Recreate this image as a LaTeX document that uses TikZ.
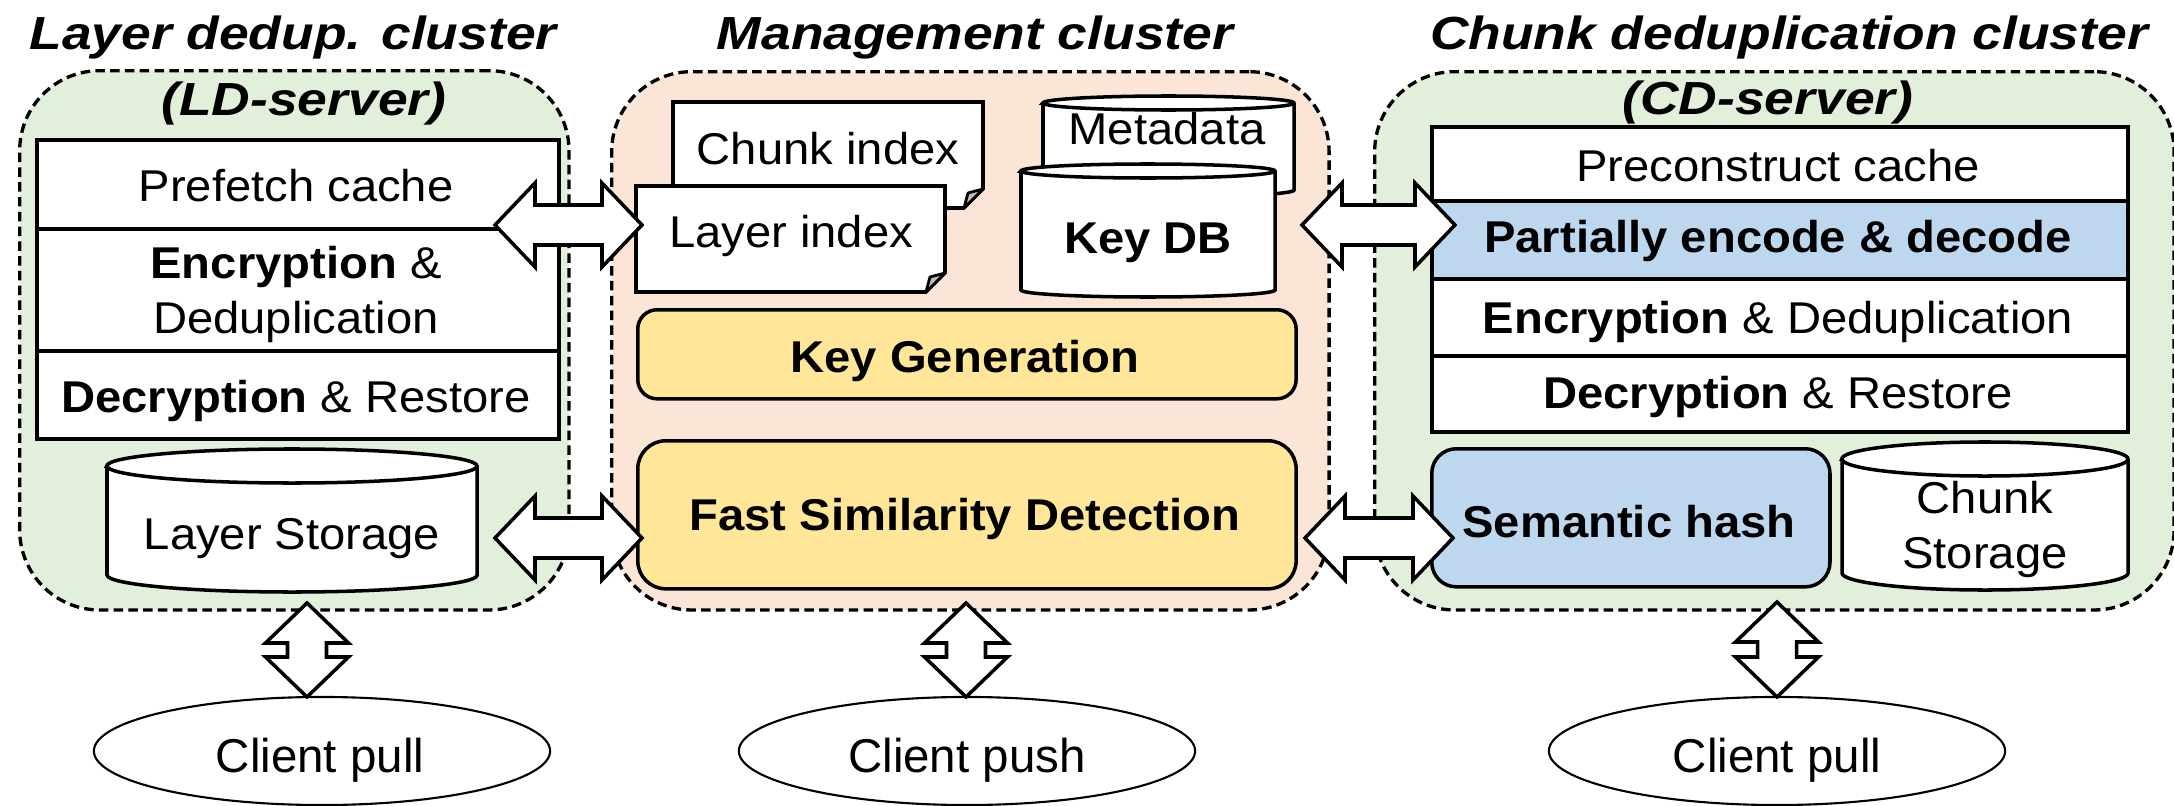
\documentclass[tikz,border=0pt]{standalone}
\usepackage{fontspec}
\setmainfont{Liberation Sans}
\newfontfamily\txtfont{Liberation Sans}[FakeStretch=1.06]
\newfontfamily\hdfont{Liberation Sans}[FakeStretch=1.15]
\usetikzlibrary{calc,shapes.geometric}
\definecolor{ldfill}{HTML}{E2EFDA}
\definecolor{mgfill}{HTML}{FBE5D6}
\definecolor{ylfill}{HTML}{FFE699}
\definecolor{blfill}{HTML}{BDD7EE}
\definecolor{foldgray}{HTML}{BFBFBF}

% vertical storage drum: left, top, right, bottom, half-height of the end ellipses
\newcommand\drum[5]{%
  \pgfmathsetmacro\drumrx{(#3-#1)/2*0.284528}%
  \pgfmathsetmacro\drumry{#5*0.284528}%
  \filldraw[box] (#1,{#2+#5}) -- (#1,{#4-#5})
     arc[start angle=180,end angle=360,x radius=\drumrx pt,y radius=\drumry pt]
     -- (#3,{#2+#5})
     arc[start angle=0,end angle=180,x radius=\drumrx pt,y radius=\drumry pt] -- cycle;
  \draw[box] (#1,{#2+#5})
     arc[start angle=180,end angle=360,x radius=\drumrx pt,y radius=\drumry pt];
}
% sheet with a folded lower-right corner: left, top, right, bottom, fold size
\newcommand\sheet[5]{%
  \filldraw[box] (#1,#2) -- (#3,#2) -- (#3,{#4-#5}) -- ({#3-#5},#4) -- (#1,#4) -- cycle;
  \filldraw[fold] (#3,{#4-#5}) -- ({#3-#5},#4) -- ({#3-#5+4},{#4-#5+4}) -- cycle;
}
% horizontal two-headed block arrow between two coordinates
\newcommand\harrow[2]{%
  \draw[blk] (#1) -- ++(40,-42) -- ++(0,22) -- ($(#2)+(-40,-20)$) -- ++(0,-22) -- (#2)
    -- ++(-40,42) -- ++(0,-22) -- ($(#1)+(40,20)$) -- ++(0,22) -- cycle;
}
% vertical two-headed block arrow between two coordinates
\newcommand\varrow[2]{%
  \draw[blk] (#1) -- ++(-41.5,40) -- ++(22,0) -- ($(#2)+(-19.5,-40)$) -- ++(-22,0) -- (#2)
    -- ++(41.5,-40) -- ++(-22,0) -- ($(#1)+(19.5,40)$) -- ++(22,0) -- cycle;
}

\begin{document}
\begin{tikzpicture}[x=0.01cm, y=-0.01cm,
  box/.style={draw=black, fill=white, line width=1pt},
  cluster/.style={draw=black, line width=0.95pt, dash pattern=on 2.7pt off 1.5pt,
                  rounded corners=0.8cm, inner sep=0, anchor=north west},
  cell/.style={draw=black, fill=white, line width=1pt, inner sep=0, anchor=north west},
  module/.style={draw=black, line width=1pt, inner sep=0, anchor=north west},
  fold/.style={draw=black, fill=foldgray, line width=0.8pt, line join=round},
  blk/.style={draw=black, fill=white, line width=1pt, line join=miter},
  txt/.style={inner sep=0, anchor=base, font=\txtfont\fontsize{12.66}{15}\selectfont},
  head/.style={inner sep=0, anchor=base, font=\hdfont\fontsize{13.2}{15}\selectfont\bfseries\itshape},
  client/.style={ellipse, draw=black, fill=white, line width=0.6pt, inner sep=0,
                 minimum width=4.56cm, minimum height=1.08cm},
  ctxt/.style={inner sep=0, anchor=base, font=\fontsize{13.5}{16}\selectfont}
]
\fill[white] (0,0) rectangle (2174,806);
\useasboundingbox (0,0) rectangle (2174,806);

% cluster frames
\node[cluster, fill=ldfill, minimum width=5.49cm, minimum height=5.39cm] (ldc) at (18,69) {};
\node[cluster, fill=mgfill, minimum width=7.17cm, minimum height=5.38cm] (mgc) at (610,70) {};
\node[cluster, fill=ldfill, minimum width=7.99cm, minimum height=5.38cm] (cdc) at (1373,70) {};

% cluster titles
\node[head] (t1) at (293,50) {Layer dedup. cluster};
\node[head] (t2) at (975,50) {Management cluster};
\node[head] (t3) at (1789,50) {Chunk deduplication cluster};
\node[head] (ldn) at (304,116) {(LD-server)};
\node[head] (cdn) at (1768,114) {(CD-server)};

% layer dedup server
\node[cell, minimum width=5.22cm, minimum height=0.89cm] (l1) at (35,138) {};
\node[cell, minimum width=5.22cm, minimum height=1.22cm] (l2) at (35,227) {};
\node[cell, minimum width=5.22cm, minimum height=0.88cm] (l3) at (35,349) {};
\node[txt] (l1t) at (296,202) {Prefetch cache};
\node[txt] (l2t) at (296,278) {\textbf{Encryption} \&};
\node[txt] (l2u) at (296,333) {Deduplication};
\node[txt] (l3t) at (296,412) {\textbf{Decryption} \& Restore};
\drum{107}{449}{477}{592}{17}
\node[txt] (lst) at (292,549) {Layer Storage};

% management cluster
\sheet{673}{102}{983}{208}{19}
\node[txt] (cit) at (828,164) {Chunk index};
\sheet{636}{186}{945}{292}{19}
\node[txt] (lit) at (791,248) {Layer index};
\drum{1043}{96}{1294}{197}{7}
\node[txt] (mdt) at (1167,144) {Metadata};
\drum{1021}{164}{1275}{297}{7}
\node[txt] (kdb) at (1148,253) {\textbf{Key DB}};
\node[module, fill=ylfill, rounded corners=5.5pt, minimum width=6.58cm, minimum height=0.89cm] (kg) at (636,308) {};
\node[txt] (kgt) at (965,372) {\textbf{Key Generation}};
\node[module, fill=ylfill, rounded corners=8pt, minimum width=6.58cm, minimum height=1.48cm] (fsd) at (636,439) {};
\node[txt] (fsdt) at (965,530) {\textbf{Fast Similarity Detection}};

% chunk dedup server
\node[cell, minimum width=6.96cm, minimum height=0.74cm] (r1) at (1430,125) {};
\node[cell, fill=blfill, minimum width=6.96cm, minimum height=0.78cm] (r2) at (1430,199) {};
\node[cell, minimum width=6.96cm, minimum height=0.77cm] (r3) at (1430,277) {};
\node[cell, minimum width=6.96cm, minimum height=0.76cm] (r4) at (1430,354) {};
\node[txt] (r1t) at (1778,181) {Preconstruct cache};
\node[txt] (r2t) at (1778,252) {\textbf{Partially encode \& decode}};
\node[txt] (r3t) at (1778,333) {\textbf{Encryption} \& Deduplication};
\node[txt] (r4t) at (1778,408) {\textbf{Decryption} \& Restore};
\node[module, fill=blfill, rounded corners=7pt, minimum width=3.98cm, minimum height=1.38cm] (sh) at (1430,447) {};
\node[txt] (sht) at (1629,537) {\textbf{Semantic hash}};
\drum{1842}{442}{2128}{590}{17}
\node[txt] (cst) at (1985,513) {Chunk};
\node[txt] (csu) at (1985,568) {Storage};

% clients
\node[client] (cpl) at (322,751) {};
\node[ctxt] (cplt) at (320,772) {Client pull};
\node[client] (cps) at (967,751) {};
\node[ctxt] (cpst) at (967,772) {Client push};
\node[client] (cpr) at (1777,751) {};
\node[ctxt] (cprt) at (1777,772) {Client pull};

% block arrows
\coordinate (h1a) at (495,225);  \coordinate (h1b) at (642,225);
\coordinate (h2a) at (495,538);  \coordinate (h2b) at (642,538);
\coordinate (h3a) at (1302,225); \coordinate (h3b) at (1455,225);
\coordinate (h4a) at (1305,538); \coordinate (h4b) at (1453,538);
\coordinate (v1a) at (307,603);  \coordinate (v1b) at (307,697);
\coordinate (v2a) at (966,603);  \coordinate (v2b) at (966,697);
\coordinate (v3a) at (1777,602); \coordinate (v3b) at (1777,697);
\harrow{h1a}{h1b}
\harrow{h2a}{h2b}
\harrow{h3a}{h3b}
\harrow{h4a}{h4b}
\varrow{v1a}{v1b}
\varrow{v2a}{v2b}
\varrow{v3a}{v3b}
\end{tikzpicture}
\end{document}
